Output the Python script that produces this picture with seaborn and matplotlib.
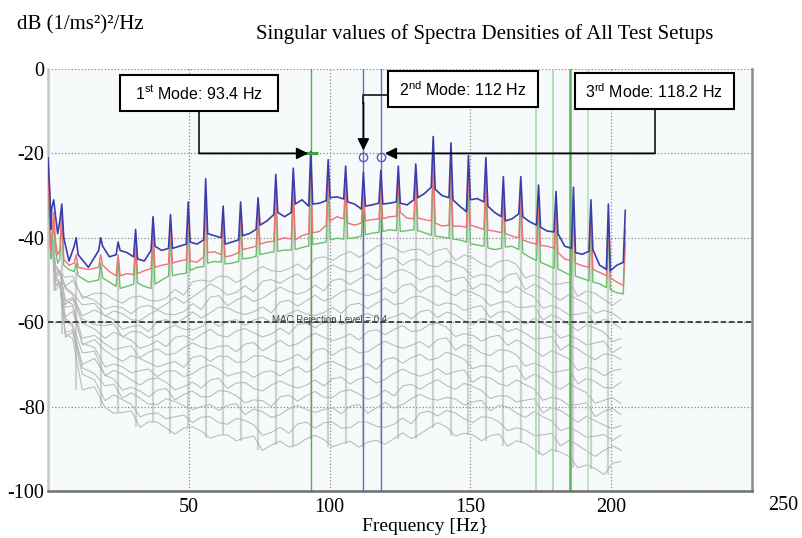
import matplotlib
matplotlib.use("Agg")
import matplotlib.pyplot as plt
import seaborn as sns
import pandas as pd
from matplotlib.patches import Rectangle
from matplotlib import font_manager as fm

# ---------------- data ----------------
# frequencies of the spectral peaks (harmonics) [Hz]
peak_freq = [0.0, 2.0, 4.9, 10.0, 18.7, 24.9, 31.1, 37.3, 43.5, 49.8, 56.0, 62.2, 68.4,
             74.6, 80.9, 87.1, 93.3, 99.5, 105.7, 112.0, 118.2, 124.4, 130.6, 136.8,
             143.1, 149.3, 155.5, 161.7, 167.9, 174.2, 180.4, 186.6, 192.8, 199.0, 205.0]

# 1st singular value (blue): peak heights and 3 base values between each pair of peaks [dB]
sv1_peaks = [-21, -31, -32, -40, -40, -41, -38, -35, -34.5, -31.5, -26, -32.5, -31.5, -30.5,
             -25, -23.5, -19.5, -21.5, -23, -24.5, -24, -23, -22.5, -16, -17.5, -20.5, -21,
             -25.5, -25.5, -27.5, -29, -28, -31, -32, -33.5]
sv1_base = [-30, -38, -33, -35, -39, -36, -40, -45.5, -42, -44, -47, -43, -42, -44.5, -44,
            -43, -43.5, -44.5, -45, -45.5, -43, -42, -43, -42.5, -42.5, -42, -41.5,
            -41, -41.5, -40.5, -39, -39.5, -40, -41.5, -41, -40.5, -39.5, -39, -38,
            -37, -36, -34.5, -34, -35, -34, -32, -31, -32.5, -32, -31.8, -31.2,
            -30.5, -30.3, -30.8, -31.5, -32, -33.2, -32.5, -32.2, -31.8, -32, -31.8, -31.5,
            -31.8, -32.2, -31, -30.5, -29.5, -28, -28.5, -30, -30.5, -31, -32.5, -33.8,
            -31, -30.7, -31.5, -32.5, -34, -35, -36, -35.5, -34.3, -35, -36.2, -37,
            -37.5, -38.4, -38.6, -39, -42, -42.5, -43.5, -43.9, -43.2, -42.8, -46.5, -47.5,
            -47.8, -46.5, -45.8]

# 2nd singular value (red)
sv2_peaks = [-24, -34, -33, -44, -44, -44, -41, -38, -37, -34, -29, -35, -34, -33, -28, -27,
             -22, -25, -26, -28, -28, -27, -26, -21, -22, -24, -25, -29, -29, -31, -32, -31,
             -34, -36, -38]
sv2_base = [-38, -43, -40, -41, -44, -43, -45, -46.5, -46, -47, -47.5, -47, -46.5, -48, -49,
            -49, -48.5, -48.7, -48.5, -47.8, -47.3, -47, -46.5, -46.2, -46, -45.5, -45.2,
            -45.5, -45.8, -44.5, -43.5, -43.3, -44, -44.5, -44.2, -43.5, -42.8, -42.4, -42,
            -41.5, -41, -40.8, -40.5, -40, -40.3, -40.5, -39.5, -39, -38.8, -38.5, -37,
            -36, -35, -35.5, -36.5, -37, -36.5, -36, -35.7, -35.5, -35.5, -35, -34.9,
            -34, -35.3, -35.5, -35.3, -35.7, -36, -36.5, -37.2, -37, -37.3, -37.2, -37.5,
            -37, -37.5, -38, -38.2, -38.4, -38.8, -39, -39.6, -40, -40.5, -41.1, -41.5,
            -41.8, -42, -42.5, -43.5, -45, -45.5, -46, -46.6, -47, -47.5, -48.2, -49,
            -49.5, -50.5, -51.3]

# 3rd singular value (green)
sv3_peaks = [-27, -37, -36, -46, -46, -45, -43, -40, -39, -36, -31, -37, -36, -35, -30, -29,
             -24, -27, -28, -30, -30, -29, -28, -24, -25, -27, -28, -31, -31, -33, -34, -33,
             -36, -38, -41]
sv3_base = [-40, -45, -42, -43, -46, -45, -46.5, -47.5, -48, -49, -50.5, -50, -49.5, -50.5, -51.5,
            -52, -51.5, -51, -50.7, -51.5, -52, -51, -50, -49.1, -49, -48.6, -48.4,
            -47.8, -47, -46.8, -46, -45.6, -45.8, -46.2, -46, -45.6, -45, -44.8, -44.4,
            -44, -43.6, -43.3, -43.2, -42.9, -42.9, -42.8, -42.3, -41.9, -41.6, -41.3, -41,
            -40.5, -40.1, -40.3, -40.2, -40, -39.6, -39.3, -38.9, -38.7, -38.5, -38.1, -38.3,
            -38.5, -38.3, -38.1, -38.3, -38.8, -39.4, -39.6, -39.8, -40.1, -40.3, -40.5, -41,
            -41.4, -41.7, -42, -42.4, -42.8, -42.5, -42.2, -42, -42.8, -43.6, -44.6, -45.4,
            -45.8, -46.5, -47.2, -47.4, -48.2, -49, -49.1, -49.6, -50.2, -50.5, -50.9, -51.8,
            -52.3, -53, -53.3]

# lower singular values (grey): 2 values between each pair of peaks
gray_01 = [-41, -40.3, -46.7, -48.1, -49.4, -49, -54.4, -53.1, -53.2, -54.6, -55.5, -54.1,
           -53.8, -54.8, -55, -54.3, -52.2, -53.6, -50.4, -50, -50.4, -49.1, -49.2, -50.6,
           -49.5, -48.1, -46.8, -47.8, -48, -47.3, -46.2, -47.6, -44.9, -44.5, -45.4, -44.1,
           -43.2, -44.6, -43.5, -42.1, -41.3, -42.3, -43.5, -42.8, -42.7, -44.1, -42.9, -42.5,
           -45.4, -44.1, -44.7, -46.1, -47, -45.6, -45.3, -46.3, -49.5, -48.8, -49.7, -51.1,
           -50.9, -50.5, -53.9, -52.6, -53.2, -54.6, -56, -54.6]
gray_02 = [-41, -39.7, -46.6, -48, -51.5, -50.1, -53.8, -54.8, -56.9, -56.2, -56.6, -58,
           -56.4, -56, -57, -55.7, -54.1, -55.5, -54, -52.6, -50.9, -51.9, -53.6, -52.9,
           -51.4, -52.8, -50.3, -49.9, -50.8, -49.5, -48.6, -50, -49, -47.6, -46.4, -47.4,
           -48.1, -47.4, -45.9, -47.3, -45.1, -44.7, -46.5, -45.2, -45.2, -46.6, -46.9, -45.5,
           -46.2, -47.2, -49.4, -48.7, -49.1, -50.5, -48.8, -48.4, -52.3, -51, -52.1, -53.5,
           -54.8, -53.4, -54.6, -55.6, -57.9, -57.2, -57.9, -59.3]
gray_03 = [-39.1, -40.1, -48.7, -48, -51.7, -53.1, -55.9, -55.5, -58.6, -57.3, -58, -59.4,
           -59.6, -58.2, -57.1, -58.1, -58.2, -57.5, -55.6, -57, -54.1, -53.7, -56.1, -54.8,
           -53.7, -55.1, -54.3, -52.9, -51.7, -52.7, -53.4, -52.7, -51.2, -52.6, -50.1, -49.7,
           -51.1, -49.8, -48.6, -50, -49.4, -48, -47.5, -48.5, -50, -49.3, -49, -50.4,
           -49.7, -49.3, -52.2, -50.9, -51.4, -52.8, -52.9, -51.5, -53, -54, -56.7, -56,
           -56.9, -58.3, -58.1, -57.7, -60.6, -59.3, -60.1, -61.5]
gray_04 = [-39.8, -39.4, -49, -47.7, -52.1, -53.5, -58.5, -57.1, -58.4, -59.4, -61.7, -61,
           -60.8, -62.2, -59.8, -59.4, -60.4, -59.1, -57.6, -59, -57.8, -56.4, -56.6, -57.6,
           -58.2, -57.5, -56.4, -57.8, -55.2, -54.8, -56.2, -54.9, -53.6, -55, -54.2, -52.8,
           -52.2, -53.2, -53.7, -53, -51.8, -53.2, -51.3, -50.9, -52.9, -51.6, -51.4, -52.8,
           -53.7, -52.3, -53, -54, -56.1, -55.4, -55, -56.4, -56.5, -56.1, -59.5, -58.2,
           -59.2, -60.6, -62, -60.6, -61.4, -62.4, -64.6, -63.9]
gray_05 = [-41.1, -39.7, -47.2, -48.2, -54.9, -54.2, -59.2, -60.6, -60.8, -60.4, -63.5, -62.2,
           -62.3, -63.7, -63, -61.6, -60.7, -61.7, -61.8, -61.1, -59.6, -61, -59.8, -59.4,
           -60.8, -59.5, -58.8, -60.2, -59.3, -57.9, -57.1, -58.1, -58.4, -57.7, -56.5, -57.9,
           -55.9, -55.5, -56.8, -55.5, -54.4, -55.8, -55.5, -54.1, -53.8, -54.8, -56.1, -55.4,
           -55.8, -57.2, -56.5, -56.1, -58.9, -57.6, -57.5, -58.9, -60.5, -59.1, -60.3, -61.3,
           -63.8, -63.1, -64, -65.4, -64.9, -64.5, -67.2, -65.9]
gray_06 = [-40.4, -41.8, -48.2, -47.8, -55.8, -54.5, -60.2, -61.6, -63.8, -62.4, -63.3, -64.3,
           -66.2, -65.5, -64.4, -65.8, -63.6, -63.2, -64.2, -62.9, -61.7, -63.1, -63.5, -62.1,
           -61.5, -62.5, -63.5, -62.8, -61.4, -62.8, -60.6, -60.2, -61.3, -60, -59.1, -60.5,
           -60.1, -58.7, -57.9, -58.9, -59.4, -58.7, -57.8, -59.2, -57.5, -57.1, -58.9, -57.6,
           -58.2, -59.6, -60.5, -59.1, -59.7, -60.7, -62.2, -61.5, -62.6, -64, -63.8, -63.4,
           -66.6, -65.3, -66.4, -67.8, -68.9, -67.5, -67.8, -68.8]
gray_07 = [-40.1, -41.5, -49.7, -48.3, -54.8, -55.8, -63.8, -63.1, -65.1, -66.5, -66, -65.6,
           -68.4, -67.1, -66.3, -67.7, -67.4, -66, -64.9, -65.9, -66.4, -65.7, -65.6, -67,
           -65.2, -64.8, -66.8, -65.5, -64.3, -65.7, -65.1, -63.7, -62.6, -63.6, -64.4, -63.7,
           -62.8, -64.2, -62.2, -61.8, -63, -61.7, -60.8, -62.2, -62, -60.6, -60.2, -61.2,
           -63.4, -62.7, -63.1, -64.5, -63.5, -63.1, -65.5, -64.2, -65.3, -66.7, -68.1, -66.7,
           -67.7, -68.7, -71.4, -70.7, -71.3, -72.7, -71.5, -71.1]
gray_08 = [-42, -41.3, -49.3, -50.7, -56.5, -56.1, -65.4, -64.1, -66.7, -68.1, -69.3, -67.9,
           -68.6, -69.6, -70.6, -69.9, -69.3, -70.7, -68.3, -67.9, -69.3, -68, -68.1, -69.5,
           -69.4, -68, -68, -69, -69.4, -68.7, -67.6, -69, -66.6, -66.2, -67.8, -66.5,
           -65.9, -67.3, -67, -65.6, -64.5, -65.5, -66.2, -65.5, -64.6, -66, -64.1, -63.7,
           -66.6, -65.3, -65.9, -67.3, -67.9, -66.5, -66.7, -67.7, -70.4, -69.7, -70.6, -72,
           -71.6, -71.2, -74.6, -73.3, -74.1, -75.5, -75.6, -74.2]
gray_09 = [-42.1, -40.8, -49.2, -50.6, -58.8, -57.4, -65, -66, -70.6, -69.9, -70.6, -72,
           -71.5, -71.1, -72.9, -71.6, -71.5, -72.9, -72.2, -70.8, -70.1, -71.1, -72.8, -72.1,
           -71.7, -73.1, -71.9, -71.5, -72.7, -71.4, -70.5, -71.9, -71.1, -69.7, -69.3, -70.3,
           -71.3, -70.6, -69.8, -71.2, -68.8, -68.4, -69.7, -68.4, -67.6, -69, -68.5, -67.1,
           -67.8, -68.8, -71, -70.3, -70.4, -71.8, -70.7, -70.3, -73.6, -72.3, -73.4, -74.8,
           -75.9, -74.5, -75.7, -76.7, -79.2, -78.5, -77.9, -79.3]
gray_10 = [-40.1, -41.1, -51.4, -50.7, -59.1, -60.5, -67.3, -66.9, -72.7, -71.4, -72.3, -73.7,
           -74.9, -73.5, -73.2, -74.2, -76, -75.3, -74.2, -75.6, -73.7, -73.3, -75.7, -74.4,
           -74.3, -75.7, -76.3, -74.9, -73.9, -74.9, -75.6, -74.9, -73.7, -75.1, -73.4, -73,
           -74.7, -73.4, -73, -74.4, -73.5, -72.1, -71.1, -72.1, -72.8, -72.1, -71, -72.4,
           -71.7, -71.3, -74.2, -72.9, -73.2, -74.6, -75.1, -73.7, -74.8, -75.8, -78.5, -77.8,
           -78.3, -79.7, -79.5, -79.1, -82.4, -81.1, -80.5, -81.9]
gray_11 = [-40.9, -40.5, -51.6, -50.3, -59.6, -61, -70, -68.6, -72.5, -73.5, -76.1, -75.4,
           -76.3, -77.7, -76.1, -75.7, -78.4, -77.1, -76.3, -77.7, -77.6, -76.2, -76.4, -77.4,
           -79.1, -78.4, -78.6, -80, -77.7, -77.3, -78.7, -77.4, -76.4, -77.8, -77.8, -76.4,
           -76, -77, -78.3, -77.6, -76.1, -77.5, -75.1, -74.7, -75.9, -74.6, -73.6, -75,
           -75.9, -74.5, -75.2, -76.2, -78.1, -77.4, -77.5, -78.9, -78.5, -78.1, -81.5, -80.2,
           -80.9, -82.3, -83.7, -82.3, -83.4, -84.4, -85.2, -84.5]
gray_12 = [-42.1, -40.7, -49.9, -50.9, -62.5, -61.8, -70.8, -72.2, -75.1, -74.7, -78, -76.7,
           -78, -79.4, -79.5, -78.1, -78.8, -79.8, -80.7, -80, -79.5, -80.9, -79.7, -79.3,
           -81.9, -80.6, -81.2, -82.6, -81.9, -80.5, -79.7, -80.7, -81.4, -80.7, -80.3, -81.7,
           -79.9, -79.5, -81.6, -80.3, -79, -80.4, -79.5, -78.1, -77.1, -78.1, -78.5, -77.8,
           -78.2, -79.6, -78.9, -78.5, -81, -79.7, -80.1, -81.5, -82.6, -81.2, -82.4, -83.4,
           -85.7, -85, -85.9, -87.3, -87, -86.6, -88, -86.7]
gray_13 = [-41.5, -42.9, -51, -50.6, -63.6, -62.3, -72.3, -73.7, -78.6, -77.2, -78.4, -79.4,
           -82.4, -81.7, -81.5, -82.9, -82.4, -82, -83.8, -82.5, -82.4, -83.8, -84.2, -82.8,
           -83.3, -84.3, -86.8, -86.1, -84.9, -86.3, -84.1, -83.7, -85.1, -83.8, -83.7, -85.1,
           -85, -83.6, -83.7, -84.7, -84.9, -84.2, -82.7, -84.1, -81.5, -81.1, -82.2, -80.9,
           -81.5, -82.9, -83.8, -82.4, -82.6, -83.6, -85.7, -85, -85.5, -86.9, -86.7, -86.3,
           -89.3, -88, -89.1, -90.5, -91.8, -90.4, -89.3, -90.3]
gray_14 = [-41.2, -42.6, -52.5, -51.1, -62.8, -63.8, -76, -75.3, -80.2, -81.6, -81.4, -81,
           -84.9, -83.6, -83.7, -85.1, -86.5, -85.1, -84.8, -85.8, -87.5, -86.8, -86.7, -88.1,
           -87.4, -87, -90.4, -89.1, -88.2, -89.6, -89, -87.6, -86.8, -87.8, -89.5, -88.8,
           -88.2, -89.6, -88.4, -88, -88.9, -87.6, -86.2, -87.6, -86.5, -85.1, -83.8, -84.8,
           -87, -86.3, -86.7, -88.1, -86.9, -86.5, -89.4, -88.1, -88.7, -90.1, -91.5, -90.1,
           -90.8, -91.8, -94.5, -93.8, -94.7, -96.1, -93.4, -93]
# height of the grey spikes at each peak frequency
gray_peaks = [-30, -40, -42, -48, -47, -45, -44, -42, -42, -40, -35, -40, -39, -38, -35, -34,
              -32, -33, -34, -35, -35, -34, -33, -30, -31, -33, -34, -36, -36, -38, -39, -38,
              -41, -42, -44]

# picked modes
mode_labels = ["1$^{st}$ Mode: 93.4 Hz", "2$^{nd}$ Mode: 112 Hz", "3$^{rd}$ Mode: 118.2 Hz"]
mode_freqs = [93.4, 112.0, 118.2]
mode_level = -20.8
extra_lines = [173.2, 179.3, 185.4, 191.9]
mac_level = -60
x_ticks = [50, 100, 150, 200]
y_ticks = [0, -20, -40, -60, -80, -100]

# ---------------- style ----------------
names = {f.name for f in fm.fontManager.ttflist}
box_font = "Liberation Sans Narrow" if "Liberation Sans Narrow" in names else "Liberation Sans"
box_size = 13.5 if box_font == "Liberation Sans Narrow" else 11.5
plt.rcParams["font.family"] = ["Liberation Serif", "DejaVu Serif"]
plt.rcParams["axes.unicode_minus"] = False
plt.rcParams["mathtext.fontset"] = "custom"
plt.rcParams["mathtext.rm"] = box_font
plt.rcParams["mathtext.it"] = box_font
plt.rcParams["mathtext.default"] = "rm"

BLUE = "#3d3daa"
RED = "#f07272"
GREEN = "#6cbf6c"
GRAY = "#b9b9b9"

# ---------------- build long-form tables ----------------
N = len(peak_freq) - 1
w = 0.7


def sv_table(name, peaks, base):
    xs, ys = [], []
    for i in range(N):
        f0, f1 = peak_freq[i], peak_freq[i + 1]
        xs += [f0, f0 + w, (f0 + f1) / 2, f1 - w]
        ys += [peaks[i], base[3 * i], base[3 * i + 1], base[3 * i + 2]]
    xs.append(peak_freq[N])
    ys.append(peaks[N])
    return pd.DataFrame({"freq": xs, "db": ys, "curve": name})


gx = []
for i in range(N):
    f0, f1 = peak_freq[i], peak_freq[i + 1]
    gx += [f0 + 0.25 * (f1 - f0), f0 + 0.75 * (f1 - f0)]

gray_list = [gray_01, gray_02, gray_03, gray_04, gray_05, gray_06, gray_07,
             gray_08, gray_09, gray_10, gray_11, gray_12, gray_13, gray_14]
gray_frames = []
for k, g in enumerate(gray_list):
    n = min(len(g), len(gx))
    gray_frames.append(pd.DataFrame({"freq": gx[:n], "db": g[:n], "curve": f"sv{k + 4}"}))
gray_df = pd.concat(gray_frames, ignore_index=True)

sv1 = sv_table("sv1", sv1_peaks, sv1_base)
sv2 = sv_table("sv2", sv2_peaks, sv2_base)
sv3 = sv_table("sv3", sv3_peaks, sv3_base)

# ---------------- figure ----------------
fig = plt.figure(figsize=(8.03, 5.38), dpi=100)
ax = fig.add_axes([48 / 803, 1 - 491 / 538, 704 / 803, 422 / 538])
ax.set_facecolor("#f7fafa")

# grey singular values
sns.lineplot(data=gray_df, x="freq", y="db", hue="curve", units="curve",
             palette=[GRAY] * len(gray_list), estimator=None, legend=False,
             lw=0.75, ax=ax, zorder=2)
# grey spikes
low = gray_list[-1]
for k in range(1, N):
    lo = min(low[2 * k - 1], low[2 * k])
    ax.vlines(peak_freq[k], lo, gray_peaks[k], color="#a8a8a8", lw=1.6, alpha=0.5, zorder=2)

# vertical mode lines
ax.axvline(mode_freqs[0], color="#55aa55", lw=1.0, zorder=2.5)
ax.axvline(mode_freqs[1], color="#6a6acc", lw=1.0, zorder=2.5)
ax.axvline(mode_freqs[2], color="#6a6acc", lw=1.0, zorder=2.5)
for f, c, lw in zip(extra_lines, ["#a6daa6", "#a6daa6", "#5fb35f", "#b8e2b8"], [1.2, 1.2, 1.8, 1.2]):
    ax.axvline(f, color=c, lw=lw, zorder=2.5)

# coloured singular values (1st on top)
sns.lineplot(data=sv3, x="freq", y="db", color=GREEN, lw=1.0, estimator=None, sort=False,
             ax=ax, zorder=3.0)
sns.lineplot(data=sv2, x="freq", y="db", color=RED, lw=1.0, estimator=None, sort=False,
             ax=ax, zorder=3.2)
sns.lineplot(data=sv1, x="freq", y="db", color=BLUE, lw=1.2, estimator=None, sort=False,
             ax=ax, zorder=3.4)

# axes
ax.set_xlim(0, 250)
ax.set_ylim(-100, 0)
ax.set_xticks(x_ticks)
ax.set_yticks(y_ticks)
ax.set_xticklabels([str(t) for t in x_ticks], fontsize=14.5)
ax.set_yticklabels([str(t) for t in y_ticks], fontsize=14.5)
ax.tick_params(axis="both", length=0)
ax.tick_params(axis="y", pad=2.5)
ax.tick_params(axis="x", pad=5)
ax.set_xlabel("")
ax.set_ylabel("")
ax.grid(True, ls=":", color="#8a8a8a", lw=0.9, zorder=1)
ax.set_axisbelow(True)
ax.spines["top"].set_visible(False)
ax.spines["left"].set_color("#c6c6c6")
ax.spines["left"].set_linewidth(1.8)
ax.spines["bottom"].set_color("#6e6e6e")
ax.spines["bottom"].set_linewidth(1.8)
ax.spines["right"].set_color("#8c8c8c")
ax.spines["right"].set_linewidth(1.8)

# MAC rejection line
ax.axhline(mac_level, color="#3a3a3a", lw=1.3, ls=(0, (3, 1.6)), zorder=4)
ax.text(100, mac_level + 0.6, "MAC Rejection Level = 0.4", fontsize=7, color="#474747",
        ha="center", va="center", family=box_font, zorder=4.5)

# picked-mode markers
ax.plot([mode_freqs[0]], [-20], marker="_", ms=10, mew=2.2, color="#3f9f3f", zorder=5)
ax.plot(mode_freqs[1:], [mode_level, mode_level], "o", mfc="none", mec="#5858c8",
        ms=6, mew=1.0, zorder=5)

# annotation boxes
boxes = [(25.6, 81.8, -9.95, -1.42), (120.6, 173.9, -9.0, -0.47), (187.1, 243.6, -9.48, -0.95)]
for (x0, x1, y0, y1), lab in zip(boxes, mode_labels):
    ax.add_patch(Rectangle((x0, y0), x1 - x0, y1 - y0, fc="white", ec="black", lw=1.5,
                           zorder=7, clip_on=False))
    ax.text((x0 + x1) / 2, (y0 + y1) / 2 - 0.1, lab, ha="center", va="center",
            fontsize=box_size, family=box_font, zorder=8)

LC = "#262626"
arrow = dict(arrowstyle="-|>", color="black", lw=1.3, shrinkA=0, shrinkB=0, mutation_scale=17)
# 1st mode connector
ax.plot([53.7, 53.7], [-9.95, -20], color=LC, lw=1.3, zorder=6)
ax.annotate("", xy=(92.4, -20), xytext=(53.7, -20), arrowprops=arrow, zorder=6)
# 2nd mode connector
ax.plot([120.6, 112.0, 112.0], [-6.2, -6.2, -8], color=LC, lw=1.3, zorder=6)
ax.annotate("", xy=(112.0, -19.3), xytext=(112.0, -8), arrowprops=arrow, zorder=6)
# 3rd mode connector
ax.plot([215.4, 215.4], [-9.48, -20], color=LC, lw=1.3, zorder=6)
ax.annotate("", xy=(119.6, -20), xytext=(215.4, -20), arrowprops=arrow, zorder=6)

# texts around the axes
fig.text(485 / 803, 1 - 39.5 / 538, "Singular values of Spectra Densities of All Test Setups",
         ha="center", va="baseline", fontsize=15)
fig.text(17 / 803, 1 - 29 / 538, "dB (1/ms²)²/Hz", ha="left", va="baseline", fontsize=15)
fig.text(425 / 803, 1 - 531 / 538, "Frequency [Hz}", ha="center", va="baseline", fontsize=14)
fig.text(783 / 803, 1 - 505 / 538, "250", ha="center", va="center", fontsize=14.5)

fig.savefig("out.png", dpi=100)
